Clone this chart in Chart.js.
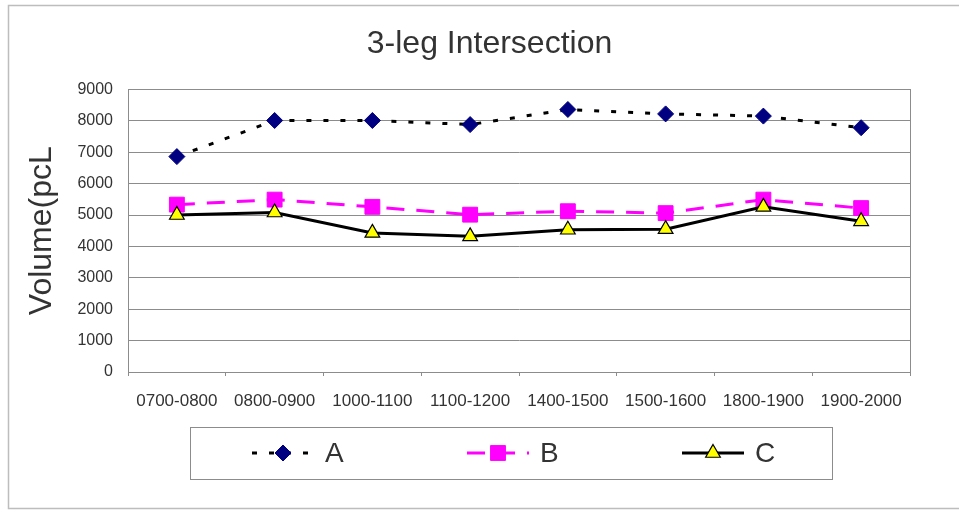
<!DOCTYPE html>
<html>
<head>
<meta charset="utf-8">
<script src="https://cdn.jsdelivr.net/npm/chart.js@4/dist/chart.umd.min.js"></script>
<style>
  html, body { margin: 0; padding: 0; background: #fff; }
  canvas { display: block; }
</style>
</head>
<body>
<canvas id="c" width="959" height="513"></canvas>
<script>
const periods = ['0700-0800', '0800-0900', '1000-1100', '1100-1200', '1400-1500', '1500-1600', '1800-1900', '1900-2000'];
const seriesA = [6860, 8010, 8010, 7880, 8360, 8220, 8150, 7780];
const seriesB = [5330, 5490, 5260, 5010, 5120, 5060, 5490, 5220];
const seriesC = [5000, 5080, 4430, 4320, 4530, 4550, 5260, 4800];
const seriesNames = ['A', 'B', 'C'];
const yMin = 0, yMax = 9000, yStep = 1000;

const FONT = '"Liberation Sans", Arial, sans-serif';
const GRID = '#8c8c8c';

// outer frame + plot border
const frame = {
  id: 'frame',
  beforeDraw(chart) {
    const { ctx, width } = chart;
    ctx.save();
    ctx.fillStyle = '#fff';
    ctx.fillRect(0, 0, width, chart.height);
    ctx.strokeStyle = '#bdbdbd';
    ctx.lineWidth = 1.5;
    ctx.beginPath();
    ctx.moveTo(width + 2, 5.5);
    ctx.lineTo(8.5, 5.5);
    ctx.lineTo(8.5, 508.5);
    ctx.lineTo(width + 2, 508.5);
    ctx.stroke();
    ctx.restore();
  },
  beforeDatasetsDraw(chart) {
    const { ctx, chartArea: a } = chart;
    ctx.save();
    ctx.strokeStyle = GRID;
    ctx.lineWidth = 1;
    ctx.strokeRect(Math.round(a.left) + 0.5, Math.round(a.top) + 0.5, Math.round(a.right - a.left), Math.round(a.bottom - a.top));
    ctx.restore();
  }
};

// boxed legend under the axis, line + marker per series
const boxLegend = {
  id: 'boxLegend',
  afterDraw(chart) {
    const { ctx } = chart;
    const h = Chart.helpers;
    const left = 190, top = 427, w = 642, ht = 52;
    const cy = top + ht / 2;
    ctx.save();
    ctx.strokeStyle = GRID;
    ctx.lineWidth = 1;
    ctx.strokeRect(left + 0.5, top + 0.5, w, ht);
    chart.data.datasets.forEach((ds, i) => {
      const x0 = 252 + i * 215;
      const x1 = x0 + 62;
      ctx.setLineDash(ds.borderDash || []);
      ctx.strokeStyle = ds.borderColor;
      ctx.lineWidth = ds.borderWidth;
      ctx.beginPath();
      ctx.moveTo(x0, cy);
      ctx.lineTo(x1, cy);
      ctx.stroke();
      ctx.setLineDash([]);
      ctx.fillStyle = ds.pointBackgroundColor;
      ctx.strokeStyle = ds.pointBorderColor;
      ctx.lineWidth = ds.pointBorderWidth;
      h.drawPoint(ctx, { pointStyle: ds.pointStyle, radius: ds.pointRadius, borderWidth: ds.pointBorderWidth, rotation: 0 }, (x0 + x1) / 2, cy);
      ctx.fillStyle = '#333';
      ctx.font = '28px ' + FONT;
      ctx.textBaseline = 'middle';
      ctx.fillText(ds.label, x1 + 11, cy + 1);
    });
    ctx.restore();
  }
};

new Chart(document.getElementById('c'), {
  type: 'line',
  data: {
    labels: periods,
    datasets: [
      { label: seriesNames[0], data: seriesA, order: 3, borderColor: '#000', borderWidth: 3, borderDash: [5, 12],
        pointStyle: 'rectRot', pointRadius: 8, pointBackgroundColor: '#000080', pointBorderColor: '#000080', pointBorderWidth: 1 },
      { label: seriesNames[1], data: seriesB, order: 2, borderColor: '#ff00ff', borderWidth: 3, borderDash: [18, 12],
        pointStyle: 'rect', pointRadius: 10.5, pointBackgroundColor: '#ff00ff', pointBorderColor: '#ff00ff', pointBorderWidth: 1 },
      { label: seriesNames[2], data: seriesC, order: 1, borderColor: '#000', borderWidth: 3, borderDash: [],
        pointStyle: 'triangle', pointRadius: 8.5, pointBackgroundColor: '#ffff00', pointBorderColor: '#000', pointBorderWidth: 1.2 }
    ]
  },
  options: {
    responsive: false,
    animation: false,
    devicePixelRatio: 1,
    layout: { padding: { left: 20, right: 0, top: 8, bottom: 101 } },
    elements: { line: { tension: 0 } },
    plugins: {
      legend: { display: false },
      tooltip: { enabled: false },
      title: {
        display: true,
        text: '3-leg Intersection',
        color: '#333',
        font: { family: FONT, size: 32, weight: 'normal' },
        padding: { top: 17, bottom: 26 }
      }
    },
    scales: {
      x: {
        offset: true,
        grid: { display: true, drawOnChartArea: false, drawTicks: true, tickLength: 4, color: GRID, offset: true },
        border: { display: true, color: GRID },
        ticks: { color: '#333', font: { family: FONT, size: 17 }, padding: 15, maxRotation: 0, autoSkip: false },
        afterFit(s) { s.height = 40; }
      },
      y: {
        min: yMin, max: yMax,
        grid: { color: GRID, drawTicks: false },
        border: { display: true, color: GRID },
        ticks: { stepSize: yStep, color: '#333', font: { family: FONT, size: 16 }, padding: 15, callback: v => String(v) },
        title: { display: true, text: 'Volume(pcL', color: '#333', font: { family: FONT, size: 32 }, padding: { top: 3, bottom: 0 } },
        afterFit(s) { s.width = 108; }
      },
      // empty right-hand spacer so the plot ends where the reference does
      yRight: {
        position: 'right',
        display: true,
        grid: { display: false },
        border: { display: false },
        ticks: { display: false },
        afterFit(s) { s.width = 49; }
      }
    }
  },
  plugins: [frame, boxLegend]
});
</script>
</body>
</html>
